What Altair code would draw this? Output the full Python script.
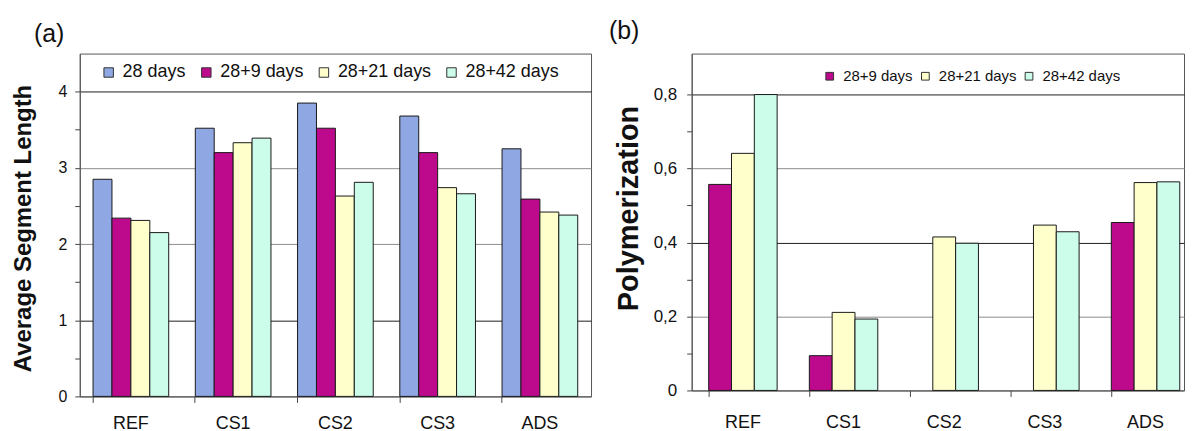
import altair as alt
import pandas as pd

groups = ["REF", "CS1", "CS2", "CS3", "ADS"]
series_a = ["28 days", "28+9 days", "28+21 days", "28+42 days"]
series_b = ["28+9 days", "28+21 days", "28+42 days"]

# (a) Average Segment Length
asl_28 = [2.85, 3.52, 3.85, 3.68, 3.25]
asl_28_9 = [2.34, 3.20, 3.52, 3.20, 2.59]
asl_28_21 = [2.31, 3.33, 2.63, 2.74, 2.42]
asl_28_42 = [2.15, 3.39, 2.81, 2.66, 2.38]

# (b) Polymerization (no 28+9 value for CS2 and CS3)
pol_28_9 = [0.557, 0.094, None, None, 0.454]
pol_28_21 = [0.641, 0.211, 0.415, 0.447, 0.562]
pol_28_42 = [0.800, 0.193, 0.398, 0.429, 0.564]

colors_a = ["#8fa7e2", "#bd0a8d", "#ffffcc", "#ccfcea"]
colors_b = colors_a[1:]

rows_a = []
for s, vals in zip(series_a, [asl_28, asl_28_9, asl_28_21, asl_28_42]):
    for g, v in zip(groups, vals):
        rows_a.append({"group": g, "series": s, "value": v})
df_a = pd.DataFrame(rows_a)

rows_b = []
for s, vals in zip(series_b, [pol_28_9, pol_28_21, pol_28_42]):
    for g, v in zip(groups, vals):
        if v is not None:
            rows_b.append({"group": g, "series": s, "value": v})
df_b = pd.DataFrame(rows_b)

FONT = "Liberation Sans"
TXT = "#111111"

ticks_a = [0, 0.5, 1, 1.5, 2, 2.5, 3, 3.5, 4]
ticks_b = [0, 0.1, 0.2, 0.3, 0.4, 0.5, 0.6, 0.7, 0.8]

chart_a = alt.Chart(df_a).mark_bar(stroke="#1a1a1a", strokeWidth=1).encode(
    x=alt.X("group:N", sort=groups,
            scale=alt.Scale(paddingInner=0.26, paddingOuter=0.13),
            axis=alt.Axis(title=None, labelAngle=0, labelFontSize=18, labelPadding=12,
                          tickSize=6, bandPosition=0, domainColor="#555555",
                          tickColor="#444444", grid=False, labelColor=TXT)),
    xOffset=alt.XOffset("series:N", sort=series_a),
    y=alt.Y("value:Q", scale=alt.Scale(domain=[0, 4.5], nice=False, zero=True),
            axis=alt.Axis(title="Average Segment Length", titleFontSize=24,
                          titleFontWeight="bold", titleColor=TXT,
                          titleX=-44, titleY=175, titleAngle=-90, titleBaseline="bottom",
                          titleAlign="center",
                          values=ticks_a,
                          labelExpr="datum.value % 1 == 0 ? format(datum.value, 'd') : ''",
                          labelFontSize=16, labelPadding=8, labelColor=TXT,
                          tickSize=5, tickColor="#444444", domainColor="#555555",
                          gridWidth=1,
                          gridOpacity={"condition": {"test": "datum.value % 1 != 0 || datum.value == 0", "value": 0}, "value": 1},
                          gridColor={"condition": {"test": "datum.value == 2 || datum.value == 3", "value": "#8c8c8c"}, "value": "#1f1f1f"})),
    color=alt.Color("series:N", sort=series_a,
                    scale=alt.Scale(domain=series_a, range=colors_a),
                    legend=alt.Legend(title=None, orient="none", legendX=20, legendY=10,
                                      direction="horizontal", columns=4,
                                      symbolType="square", symbolSize=90,
                                      symbolStrokeColor="#333333", symbolStrokeWidth=1,
                                      labelFontSize=18, labelOffset=5, columnPadding=11,
                                      labelColor=TXT, padding=0)),
).properties(
    width=513, height=344,
    title=alt.Title("(a)", anchor="start", frame="group", dx=-46, fontSize=25,
                    fontWeight="normal", offset=7, color=TXT),
)

chart_b = alt.Chart(df_b).mark_bar(stroke="#1a1a1a", strokeWidth=1).encode(
    x=alt.X("group:N", sort=groups,
            scale=alt.Scale(paddingInner=0.32, paddingOuter=0.1056, align=0.8),
            axis=alt.Axis(title=None, labelAngle=0, labelFontSize=18, labelPadding=17,
                          tickSize=6, bandPosition=0, domainColor="#555555",
                          tickColor="#444444", grid=False, labelColor=TXT)),
    xOffset=alt.XOffset("series:N", sort=series_b, scale=alt.Scale(domain=series_b)),
    y=alt.Y("value:Q", scale=alt.Scale(domain=[0, 0.9108], nice=False, zero=True),
            axis=alt.Axis(title="Polymerization", titleFontSize=29,
                          titleFontWeight="bold", titleColor=TXT,
                          titleX=-48, titleY=155, titleAngle=-90, titleBaseline="bottom",
                          titleAlign="center",
                          values=ticks_b,
                          labelExpr="datum.value == 0 ? '0' : (round(datum.value * 10) % 2 == 0 ? replace(format(datum.value, '.1f'), '.', ',') : '')",
                          labelFontSize=17, labelPadding=10, labelColor=TXT,
                          tickSize=5, tickColor="#444444", domainColor="#555555",
                          gridWidth=1,
                          gridOpacity={"condition": {"test": "round(datum.value * 10) % 2 == 1 || datum.value == 0", "value": 0}, "value": 1},
                          gridColor={"condition": {"test": "abs(datum.value - 0.2) < 0.01 || abs(datum.value - 0.6) < 0.01", "value": "#8c8c8c"}, "value": "#1f1f1f"})),
    color=alt.Color("series:N", sort=series_b,
                    scale=alt.Scale(domain=series_b, range=colors_b),
                    legend=alt.Legend(title=None, orient="none", legendX=131, legendY=15,
                                      direction="horizontal", columns=3,
                                      symbolType="square", symbolSize=60,
                                      symbolStrokeColor="#333333", symbolStrokeWidth=1,
                                      labelFontSize=15, labelOffset=6, columnPadding=5,
                                      labelColor=TXT, padding=0)),
).properties(
    width=494, height=338,
    title=alt.Title("(b)", anchor="start", frame="group", dx=-83, fontSize=25,
                    fontWeight="normal", offset=10, color=TXT),
)

chart = alt.hconcat(chart_a, chart_b, spacing=16).resolve_scale(
    color="independent", x="independent", y="independent", xOffset="independent"
).properties(
    padding={"left": 3, "top": 9, "right": 0, "bottom": 0}
).configure(font=FONT).configure_view(stroke="#555555", strokeWidth=1)

chart.save("out.html", embed_options={"renderer": "svg", "actions": False})
